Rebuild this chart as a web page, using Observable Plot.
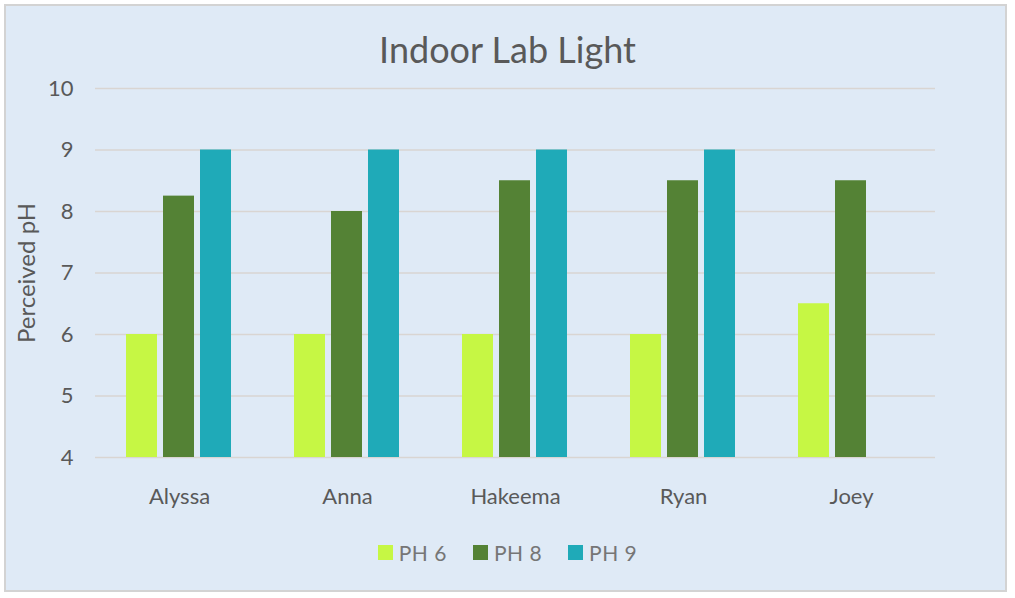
<!DOCTYPE html>
<html>
<head>
<meta charset="utf-8">
<script src="https://cdn.jsdelivr.net/npm/d3@7"></script>
<script src="https://cdn.jsdelivr.net/npm/@observablehq/plot@0.6"></script>
<style>
  html, body { margin: 0; padding: 0; background: #ffffff; }
  body { width: 1015px; height: 598px; overflow: hidden; font-family: Lato, "Open Sans", sans-serif; }
  #frame {
    position: absolute; left: 4px; top: 4px; width: 1003px; height: 588px;
    background: #dfeaf6; border: 2px solid #d3d3d3; box-sizing: border-box;
  }
  #title {
    position: absolute; left: 0; top: 0; width: 1015px; height: 70px;
    text-align: center; font-size: 36px; color: #595959; line-height: 98px;
  }
  #chart { position: absolute; left: 0; top: 70px; }
  #legend {
    position: absolute; left: 0; top: 520px; width: 1015px; height: 60px;
    display: flex; justify-content: center; align-items: flex-start; padding-top: 20px; box-sizing: border-box;
    font-size: 21px; color: #767676; gap: 0; letter-spacing: 0.5px;
  }
  .item { display: flex; align-items: center; margin: 0 13px; }
  .sw { width: 15px; height: 15px; margin-right: 6px; }
  #chart g[aria-label="y-axis label"] text { font-size: 24px; }
</style>
</head>
<body>
<div id="frame"></div>
<div id="title">Indoor Lab Light</div>
<div id="chart"></div>
<div id="legend"></div>
<script>
const names = ["Alyssa", "Anna", "Hakeema", "Ryan", "Joey"];
const seriesNames = ["PH 6", "PH 8", "PH 9"];
const ph6 = [6, 6, 6, 6, 6.5];
const ph8 = [8.25, 8, 8.5, 8.5, 8.5];
const ph9 = [9, 9, 9, 9, null];
const yTicks = [4, 5, 6, 7, 8, 9, 10];
const colors = ["#c6f744", "#548235", "#1faab8"];

const seriesValues = [ph6, ph8, ph9];
const data = [];
names.forEach((n, i) => {
  seriesNames.forEach((s, j) => {
    const v = seriesValues[j][i];
    if (v != null) data.push({name: n, series: s, value: v});
  });
});
const yMin = yTicks[0];

const plot = Plot.plot({
  width: 1015,
  height: 450,
  marginLeft: 93,
  marginRight: 78,
  marginTop: 18,
  marginBottom: 63,
  style: {background: "transparent", fontFamily: "Lato, 'Open Sans', sans-serif", fontSize: "22px", color: "#595959"},
  fx: {domain: names, padding: 0, label: null, axis: "bottom", tickSize: 0, tickPadding: 31},
  x: {domain: seriesNames, paddingInner: 0.155, paddingOuter: 0.843, axis: null},
  y: {domain: [yTicks[0], yTicks[yTicks.length - 1]], ticks: yTicks, tickFormat: "d", tickSize: 0, tickPadding: 22,
      label: "Perceived pH", labelArrow: "none", labelAnchor: "center", labelOffset: 78},
  color: {domain: seriesNames, range: colors},
  marks: [
    Plot.ruleY(yTicks, {stroke: "#d9d5d2", strokeWidth: 1.5}),
    Plot.barY(data, {fx: "name", x: "series", y1: () => yMin, y2: "value", fill: "series"})
  ]
});
document.getElementById("chart").appendChild(plot);

const legend = document.getElementById("legend");
seriesNames.forEach((s, j) => {
  const it = document.createElement("div");
  it.className = "item";
  const sw = document.createElement("div");
  sw.className = "sw";
  sw.style.background = colors[j];
  const t = document.createElement("span");
  t.textContent = s;
  it.appendChild(sw); it.appendChild(t);
  legend.appendChild(it);
});
</script>
</body>
</html>
